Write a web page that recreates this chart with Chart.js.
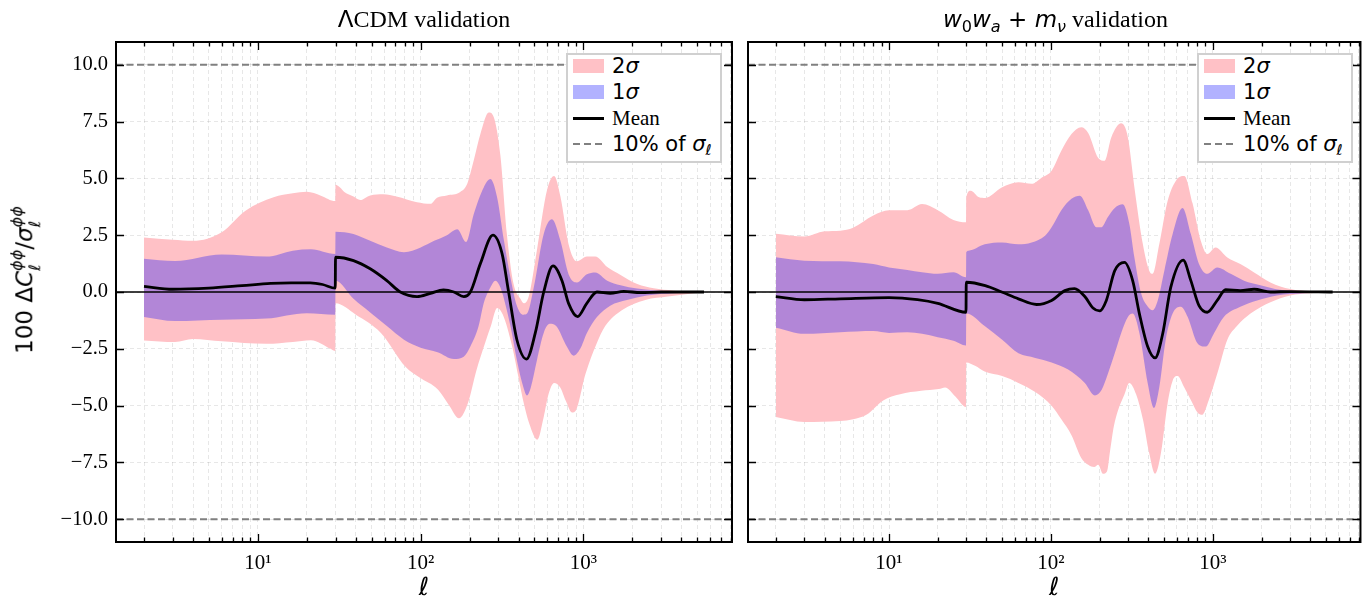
<!DOCTYPE html>
<html>
<head>
<meta charset="utf-8">
<script src="https://cdn.jsdelivr.net/npm/chart.js@4.4.1/dist/chart.umd.min.js"></script>
<style>
  body { margin: 0; background: #fff; }
  #wrap { position: relative; width: 1368px; height: 599px; overflow: hidden; }
  canvas { position: absolute; top: 0; }
  .ttl { position: absolute; top: 6px; line-height: 30px; font: 24px 'Liberation Serif', serif; text-align: center; color: #000; }
  .sans { font-family: 'DejaVu Sans', sans-serif; font-size: 23px; }
  .math { font-family: 'DejaVu Sans', sans-serif; font-size: 23px; }
  .math sub, .leg sub { font-size: 0.7em; vertical-align: -0.3em; line-height: 0; }
  #ylab { position: absolute; left: 26px; top: 280px; transform: translate(-50%, -50%) rotate(-90deg);
          white-space: nowrap; font: 23px 'DejaVu Sans', sans-serif; color: #000; }
  .ss { display: inline-block; vertical-align: -0.5em; font-size: 0.7em; line-height: 1.1; text-align: left; }
  .ss span { display: block; font-style: italic; }
  .leg { position: absolute; top: 53px; width: 156px; height: 110px; box-sizing: border-box;
         border: 2px solid #d0d0d0; background: #fff; }
  .row { position: absolute; left: 0; height: 26px; display: flex; align-items: center; white-space: nowrap; }
  .patch { display: inline-block; width: 31px; height: 14px; margin: 0 8px 0 5px; }
  .ln { display: inline-block; width: 31px; height: 3px; background: #000; margin: 0 8px 0 5px; }
  .dash { height: 2px; background: repeating-linear-gradient(to right, #808080 0 7px, transparent 7px 11px); }
  .lt { font: 21px 'DejaVu Sans', sans-serif; }
  .ls { font: 21px 'Liberation Serif', serif; }
</style>
</head>
<body>
<div id="wrap">
  <canvas id="lcdmChart" width="740" height="599" style="left:0;width:740px;height:599px"></canvas>
  <canvas id="wChart" width="628" height="599" style="left:740px;width:628px;height:599px"></canvas>

  <div class="ttl" style="left:116px;width:616px"><span class="sans">Λ</span>CDM validation</div>
  <div class="ttl" style="left:748px;width:615px"><span class="math"><i>w</i><sub>0</sub><i>w</i><sub><i>a</i></sub> + <i>m</i><sub><i>ν</i></sub></span> validation</div>

  <div id="ylab">100 Δ<i>C</i><span class="ss"><span>ϕϕ</span><span>ℓ</span></span>/<i>σ</i><span class="ss"><span>ϕϕ</span><span>ℓ</span></span></div>

  <div class="leg" style="left:566px">
    <div class="row" style="top:-2px"><span class="patch" style="background:rgb(255,193,198)"></span><span class="lt">2<i>σ</i></span></div>
    <div class="row" style="top:24px"><span class="patch" style="background:rgba(0,0,255,0.3)"></span><span class="lt">1<i>σ</i></span></div>
    <div class="row" style="top:50px"><span class="ln"></span><span class="ls">Mean</span></div>
    <div class="row" style="top:76px"><span class="ln dash"></span><span class="lt">10% of <i>σ</i><sub><i>ℓ</i></sub></span></div>
  </div>
  <div class="leg" style="left:1197px">
    <div class="row" style="top:-2px"><span class="patch" style="background:rgb(255,193,198)"></span><span class="lt">2<i>σ</i></span></div>
    <div class="row" style="top:24px"><span class="patch" style="background:rgba(0,0,255,0.3)"></span><span class="lt">1<i>σ</i></span></div>
    <div class="row" style="top:50px"><span class="ln"></span><span class="ls">Mean</span></div>
    <div class="row" style="top:76px"><span class="ln dash"></span><span class="lt">10% of <i>σ</i><sub><i>ℓ</i></sub></span></div>
  </div>
</div>

<script>
// Axes
const xLimits = [1.346, 8170];
const xTickValues = [2, 3, 4, 5, 6, 7, 8, 9, 10, 20, 30, 40, 50, 60, 70, 80, 90,
  100, 200, 300, 400, 500, 600, 700, 800, 900, 1000, 2000, 3000, 4000, 5000, 6000, 7000, 8000];
const xMajorTicks = [10, 100, 1000];
const xMajorLabels = ['10¹', '10²', '10³'];
const yLimits = [-11, 11];
const yTickValues = [-10, -7.5, -5, -2.5, 0, 2.5, 5, 7.5, 10];
const refLevels = [10, -10];   // 10% of sigma_l
const zeroLevel = 0;

// LCDM validation
const lcdmMeanL = [2, 3, 5, 8, 12, 16, 21, 25, 29.9, 30, 38.7, 49, 62, 75, 95, 115, 138, 160, 184,
  202, 233, 278, 316, 347, 390, 447, 506, 570, 650, 738, 810, 920, 1048, 1210, 1460, 1770, 2240, 3000, 5500];
const lcdmMean = [0.25, 0.12, 0.17, 0.28, 0.38, 0.40, 0.40, 0.33, 0.17, 1.53, 1.38, 1.02, 0.50, 0.0, -0.2, -0.06, 0.09, 0.0, -0.2,
  0.0, 1.26, 2.5, 1.7, 0.0, -2.1, -2.95, -1.8, 0.0, 1.15, 0.5, -0.5, -1.08, -0.5, 0.0, -0.06, 0.03, -0.03, 0.0, 0.0];

const lcdmHi2L = [2, 3, 4, 6, 8.4, 12.5, 16.4, 20, 24.4, 29.9, 30, 32, 34, 38.7, 42.6, 49, 59, 71, 95, 115,
  126, 145, 175, 193, 212, 233, 262, 281, 309, 338, 371, 410, 430, 461, 518, 598, 660, 722, 810, 910,
  1050, 1180, 1400, 1690, 2140, 2700, 3580, 4330, 5500];
const lcdmHi2 = [2.4, 2.3, 2.25, 2.63, 3.58, 4.17, 4.34, 4.41, 4.24, 4.0, 4.72, 4.6, 4.4, 4.2, 4.05, 4.25, 4.3, 4.2, 3.95, 3.88,
  4.15, 4.25, 4.4, 4.75, 5.8, 6.96, 7.9, 7.7, 6.0, 2.6, 0.4, -0.3, -0.5, -0.2, 1.85, 4.5, 5.1, 4.2, 2.1, 1.35,
  1.56, 1.56, 1.1, 0.75, 0.35, 0.16, 0.06, 0.02, 0];

const lcdmHi1L = [2, 3.1, 6, 11.3, 16.4, 21.2, 29.9, 30, 38.7, 49, 62, 79, 100, 121, 145, 168, 190,
  212, 244, 268, 295, 325, 356, 390, 428, 450, 495, 570, 640, 722, 810, 910, 1050, 1180, 1400, 1690, 2140,
  2700, 3580, 5500];
const lcdmHi1 = [1.46, 1.36, 1.65, 1.56, 1.82, 1.88, 1.67, 2.65, 2.55, 2.25, 1.96, 1.75, 1.96, 2.25, 2.5, 2.76, 2.2,
  3.43, 4.6, 4.97, 4.16, 2.25, 0.64, -0.6, -1.0, -0.95, 0.2, 2.55, 3.2, 2.25, 0.78, 0.42, 0.78, 0.86, 0.5, 0.3, 0.15,
  0.08, 0.03, 0];

const lcdmLo1L = [2, 3.1, 6, 11.3, 20, 29.9, 30, 38.7, 49, 62, 79, 100, 127, 160, 184, 202,
  227, 244, 268, 288, 309, 333, 356, 390, 428, 450, 475, 518, 570, 620, 680, 790, 870, 955, 1050, 1210,
  1460, 1850, 2450, 3580, 5500];
const lcdmLo1 = [-1.1, -1.28, -1.22, -1.17, -0.93, -1.0, 0.5, -0.3, -0.9, -1.5, -2.1, -2.45, -2.65, -2.95, -2.85, -2.4,
  -1.5, -0.5, 0.2, 0.5, 0.2, -0.6, -1.5, -3.0, -4.2, -4.55, -4.2, -3.0, -1.8, -1.4, -1.5, -2.4, -2.8, -2.5, -1.8, -1.1,
  -0.6, -0.35, -0.15, -0.05, 0];

const lcdmLo2L = [2, 3.1, 4, 6, 11.3, 16.4, 21.2, 28, 29.9, 30, 40, 57, 81, 98, 128, 150, 172, 195, 220,
  250, 270, 295, 320, 365, 400, 430, 465, 520, 570, 610, 660, 720, 780, 850, 900, 1030, 1200, 1360, 1720,
  2400, 3300, 5500];
const lcdmLo2 = [-2.13, -2.2, -2.07, -2.17, -2.28, -2.2, -2.12, -2.5, -2.6, -0.5, -1.0, -1.8, -3.3, -3.75, -4.3, -5.0, -5.56, -4.9, -3.45,
  -2.2, -1.5, -0.7, -1.0, -2.4, -3.8, -4.9, -5.8, -6.5, -5.5, -4.5, -4.0, -4.2, -4.8, -5.3, -5.2, -3.6, -2.3, -1.5, -0.8,
  -0.35, -0.2, 0];

// w0wa + m_nu validation
const wMeanL = [2, 3, 5, 10, 15, 20, 29.9, 30, 39.3, 49.7, 63, 81.6, 101, 122, 140, 162, 182,
  200, 220, 248, 285, 320, 352, 396, 440, 490, 550, 656, 732, 822, 925, 1065, 1200, 1480, 1800, 2270, 3000, 5500];
const wMean = [-0.2, -0.34, -0.3, -0.25, -0.34, -0.5, -0.89, 0.43, 0.28, 0.0, -0.3, -0.55, -0.37, 0.06, 0.15, -0.2, -0.7,
  -0.83, -0.37, 0.94, 1.3, 0.5, -0.95, -2.4, -2.9, -1.85, 0.2, 1.4, 0.5, -0.6, -0.89, -0.37, 0.1, 0.06, 0.12, 0.0, 0.02, 0];

const wHi2L = [2, 3, 4, 5, 6, 8, 10, 13, 16, 20, 25, 29.9, 30, 32, 36, 39.3, 49.7, 63, 76, 88,
  101, 116, 134, 154, 170, 196, 215, 236, 272, 299, 328, 370, 405, 425, 467, 526, 592, 667, 750, 843,
  925, 1040, 1230, 1480, 1800, 2270, 3010, 3990, 5500];
const wHi2 = [2.56, 2.44, 2.67, 2.7, 2.83, 3.37, 3.6, 3.6, 3.87, 3.6, 3.17, 3.07, 4.17, 4.46, 4.17, 4.14, 4.6, 4.83, 4.76, 5.04,
  5.34, 6.22, 6.95, 7.25, 7.0, 5.9, 5.78, 6.8, 7.42, 6.8, 4.6, 2.1, 0.94, 0.8, 2.1, 4.0, 4.9, 5.1, 3.9, 2.25,
  1.67, 1.96, 1.52, 1.23, 0.86, 0.42, 0.13, 0.03, 0];

const wHi1L = [2, 3, 5, 8, 10, 13, 16, 20, 25, 29.9, 30, 31, 39, 50, 63, 76, 92, 101, 116, 134,
  151, 170, 191, 205, 225, 248, 278, 305, 328, 361, 396, 425, 457, 502, 565, 650, 732, 822, 925, 1065,
  1290, 1560, 1970, 2600, 3630, 5500];
const wHi1 = [1.53, 1.38, 1.35, 1.23, 1.08, 0.97, 0.87, 0.8, 0.87, 0.65, 1.75, 1.82, 2.1, 2.18, 2.1, 2.18, 2.48, 2.85, 3.6, 4.1,
  4.24, 3.6, 2.85, 2.85, 3.3, 3.7, 3.86, 3.0, 1.52, -0.06, -0.64, -0.8, -0.37, 0.94, 2.55, 3.7, 2.55, 1.23, 0.8, 1.08,
  0.8, 0.5, 0.3, 0.1, 0.03, 0];

const wLo1L = [2, 3, 5, 8, 10, 13, 16, 20, 25, 29.9, 30, 39, 50, 63, 80, 101, 127, 162, 187, 206,
  225, 248, 272, 299, 320, 352, 396, 433, 467, 512, 565, 635, 700, 804, 905, 1020, 1170, 1480, 1880, 2490,
  3630, 5500];
const wLo1 = [-1.57, -1.84, -1.77, -1.72, -1.8, -1.77, -1.84, -1.99, -2.14, -2.35, -0.95, -1.5, -2.1, -2.7, -2.9, -3.1, -3.4, -4.0, -4.55, -4.3,
  -3.6, -2.7, -1.8, -1.1, -0.95, -1.8, -4.0, -5.1, -4.2, -2.1, -0.95, -0.65, -1.1, -2.25, -2.4, -1.8, -1.1, -0.65, -0.37, -0.15,
  -0.05, 0];

const wLo2L = [2, 3, 5, 6, 7.25, 9.2, 11.7, 15.8, 20.3, 22.2, 25.7, 29.9, 30, 34, 39, 50, 63, 80, 101, 116,
  134, 154, 170, 185, 196, 210, 222, 232, 245, 260, 285, 305, 336, 370, 405, 440, 478, 526, 565, 606,
  667, 732, 804, 860, 945, 1065, 1230, 1410, 1710, 2270, 3010, 3990, 5500];
const wLo2 = [-5.5, -5.72, -5.68, -5.6, -5.4, -4.77, -4.5, -4.35, -4.27, -4.2, -4.6, -5.06, -3.1, -3.25, -3.5, -3.7, -4.0, -4.4, -5.0, -5.6,
  -6.3, -7.3, -7.6, -7.7, -7.6, -8.0, -7.9, -7.0, -5.9, -5.2, -4.5, -4.0, -4.5, -5.6, -7.1, -8.0, -7.1, -4.9, -3.9, -3.7,
  -4.2, -4.75, -5.3, -5.4, -4.75, -3.6, -2.1, -1.5, -0.95, -0.45, -0.15, -0.05, 0];

const pinkFill = 'rgb(255,193,198)';
const blueFill = 'rgba(0,0,255,0.3)';
const serifFont = "'Liberation Serif', 'Times New Roman', serif";

function pts(ells, vals) {
  return ells.map((l, i) => ({ x: l, y: vals[i] }));
}

function flat(level) {
  return pts(xLimits, [level, level]);
}

// spines + inward ticks on all four sides, like the matplotlib style
const frameTicks = {
  id: 'frameTicks',
  afterDatasetsDraw(chart) {
    const { ctx, chartArea: a, scales: { x, y } } = chart;
    ctx.save();
    ctx.strokeStyle = '#000';
    ctx.lineWidth = 1.3;
    ctx.beginPath();
    x.ticks.forEach(t => {
      const px = Math.round(x.getPixelForValue(t.value)) + 0.5;
      const len = xMajorTicks.includes(t.value) ? 8 : 4.5;
      ctx.moveTo(px, a.bottom); ctx.lineTo(px, a.bottom - len);
      ctx.moveTo(px, a.top); ctx.lineTo(px, a.top + len);
    });
    y.ticks.forEach(t => {
      const py = Math.round(y.getPixelForValue(t.value)) + 0.5;
      ctx.moveTo(a.left, py); ctx.lineTo(a.left + 8, py);
      ctx.moveTo(a.right, py); ctx.lineTo(a.right - 8, py);
    });
    ctx.stroke();
    ctx.lineWidth = 2;
    ctx.strokeRect(a.left, a.top, a.right - a.left, a.bottom - a.top);
    ctx.restore();
  }
};

function makePanel(canvasId, s, showYLabels, rightPad) {
  const band = { pointRadius: 0, borderWidth: 0, borderColor: 'rgba(0,0,0,0)', cubicInterpolationMode: 'monotone' };
  const datasets = [
    { label: 'Mean', data: pts(s.meanL, s.mean), borderColor: '#000', borderWidth: 2.8, pointRadius: 0,
      cubicInterpolationMode: 'monotone', fill: false, order: 0 },
    { label: 'zero', data: flat(zeroLevel), borderColor: '#000', borderWidth: 1.6, pointRadius: 0, fill: false, order: 1 },
    { label: '10% of σ', data: flat(refLevels[0]), borderColor: '#808080', borderWidth: 2, borderDash: [7, 3.5],
      pointRadius: 0, fill: false, order: 2 },
    { label: '-10% of σ', data: flat(refLevels[1]), borderColor: '#808080', borderWidth: 2, borderDash: [7, 3.5],
      pointRadius: 0, fill: false, order: 2 },
    { label: '1σ', data: pts(s.hi1L, s.hi1), fill: '+1', backgroundColor: blueFill, order: 3, ...band },
    { label: '1σ low', data: pts(s.lo1L, s.lo1), fill: false, order: 3, ...band },
    { label: '2σ', data: pts(s.hi2L, s.hi2), fill: '+1', backgroundColor: pinkFill, order: 4, ...band },
    { label: '2σ low', data: pts(s.lo2L, s.lo2), fill: false, order: 4, ...band }
  ];

  return new Chart(document.getElementById(canvasId), {
    type: 'line',
    data: { datasets },
    options: {
      responsive: false,
      animation: false,
      events: [],
      layout: { autoPadding: false, padding: { left: 0, right: rightPad, top: 42, bottom: 0 } },
      plugins: { legend: { display: false }, tooltip: { enabled: false } },
      scales: {
        x: {
          type: 'logarithmic',
          min: xLimits[0],
          max: xLimits[1],
          bounds: 'data',
          afterBuildTicks: (scale) => { scale.ticks = xTickValues.map(v => ({ value: v })); },
          afterFit: (scale) => { scale.height = 57; },
          grid: { color: 'rgba(0,0,0,0.12)', lineWidth: 0.8, drawTicks: false },
          border: { display: false, dash: [4, 3] },
          ticks: {
            autoSkip: false, maxRotation: 0, minRotation: 0, padding: 9, color: '#000',
            font: { family: serifFont, size: 21 },
            callback: (v) => {
              const i = xMajorTicks.indexOf(v);
              return i >= 0 ? xMajorLabels[i] : '';
            }
          },
          title: { display: true, text: 'ℓ', color: '#000', padding: { top: 0, bottom: -2 },
                   font: { family: "'DejaVu Sans', sans-serif", style: 'italic', size: 25, lineHeight: 1 } }
        },
        y: {
          type: 'linear',
          min: yLimits[0],
          max: yLimits[1],
          afterBuildTicks: (scale) => { scale.ticks = yTickValues.map(v => ({ value: v })); },
          afterFit: (scale) => { scale.width = showYLabels ? 116 : 8; },
          grid: { color: 'rgba(0,0,0,0.12)', lineWidth: 0.8, drawTicks: false },
          border: { display: false, dash: [4, 3] },
          ticks: {
            display: showYLabels, padding: 8, color: '#000',
            font: { family: serifFont, size: 20.5 },
            callback: (v) => v.toFixed(1).replace('-', '−')
          }
        }
      }
    },
    plugins: [frameTicks]
  });
}

makePanel('lcdmChart', {
  meanL: lcdmMeanL, mean: lcdmMean,
  hi1L: lcdmHi1L, hi1: lcdmHi1, lo1L: lcdmLo1L, lo1: lcdmLo1,
  hi2L: lcdmHi2L, hi2: lcdmHi2, lo2L: lcdmLo2L, lo2: lcdmLo2
}, true, 8);

makePanel('wChart', {
  meanL: wMeanL, mean: wMean,
  hi1L: wHi1L, hi1: wHi1, lo1L: wLo1L, lo1: wLo1,
  hi2L: wHi2L, hi2: wHi2, lo2L: wLo2L, lo2: wLo2
}, false, 5);
</script>
</body>
</html>
